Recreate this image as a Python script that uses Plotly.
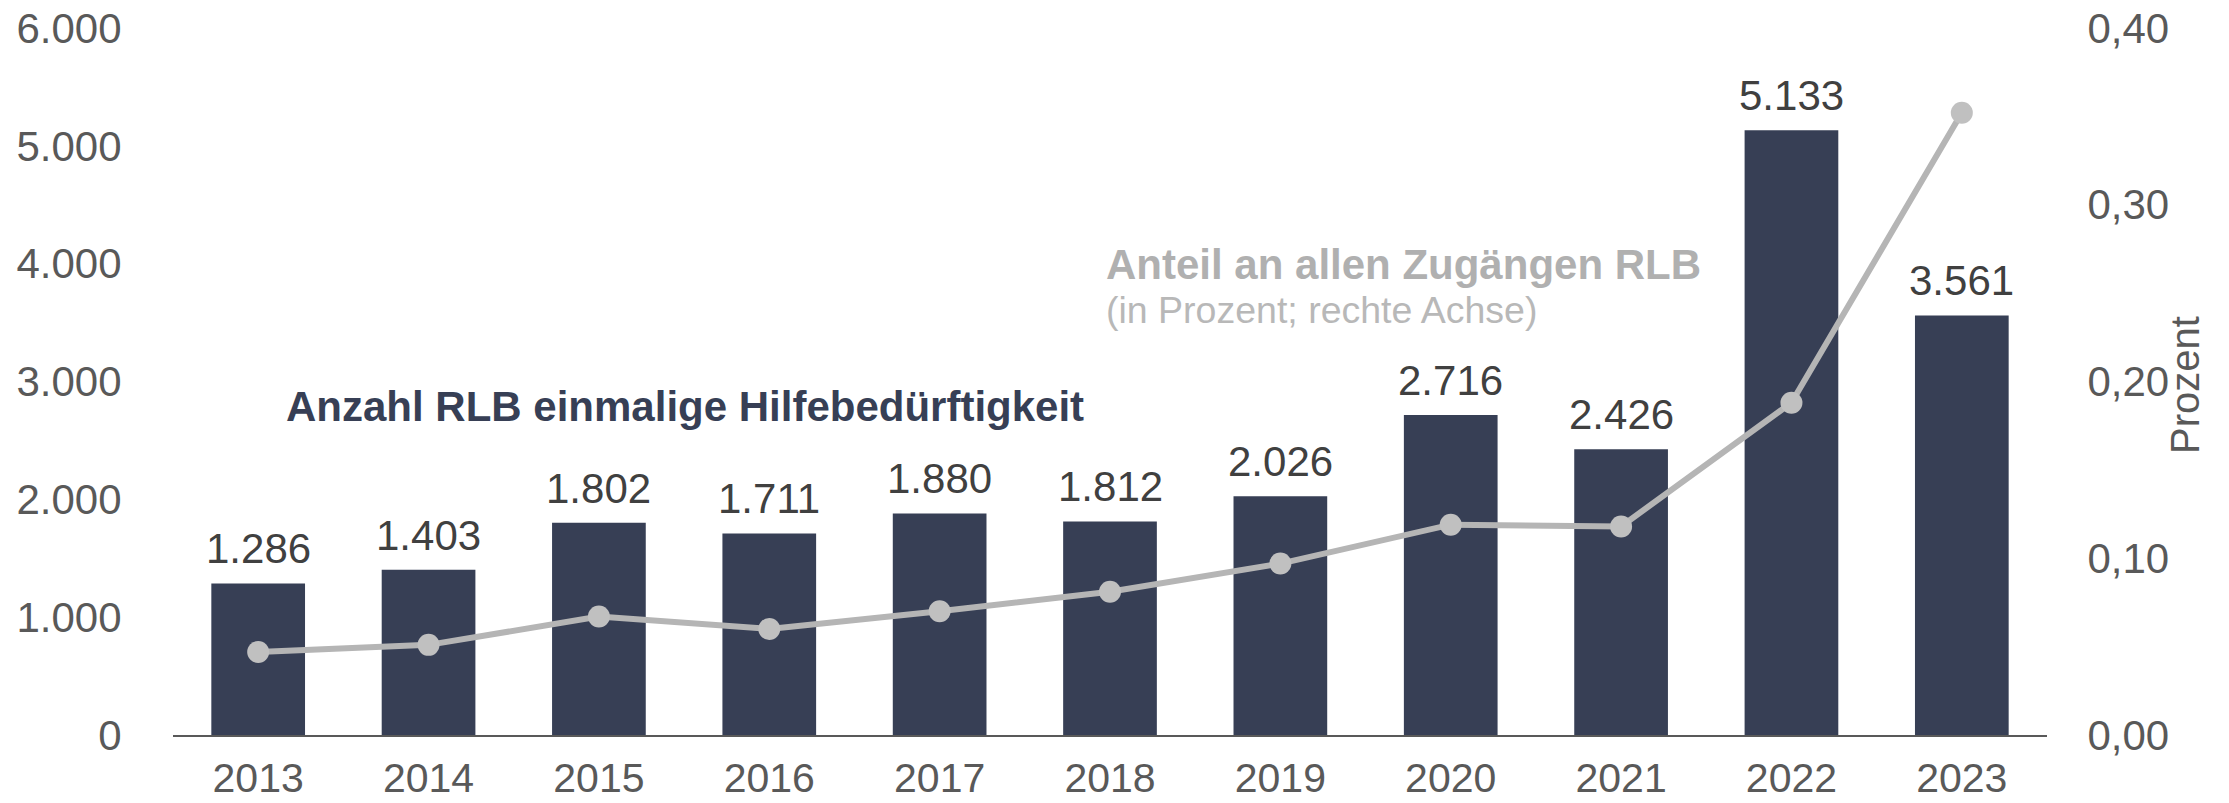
import plotly.graph_objects as go

years = ["2013", "2014", "2015", "2016", "2017", "2018", "2019", "2020", "2021", "2022", "2023"]
anzahl = [1286, 1403, 1802, 1711, 1880, 1812, 2026, 2716, 2426, 5133, 3561]
anteil = [0.047, 0.051, 0.067, 0.060, 0.070, 0.081, 0.097, 0.119, 0.118, 0.188, 0.352]
left_ticks = [0, 1000, 2000, 3000, 4000, 5000, 6000]
right_ticks = [0.0, 0.1, 0.2, 0.3, 0.4]

NAVY = "#373f55"
GREY_LINE = "#b5b5b5"
TICK = "#595959"
FONT = "Liberation Sans, Arial, sans-serif"

fig = go.Figure()
fig.add_trace(go.Bar(x=years, y=anzahl, marker=dict(color=NAVY, line=dict(width=0)),
                     yaxis="y", hoverinfo="skip", showlegend=False))
fig.add_trace(go.Scatter(x=years, y=anteil, yaxis="y2", mode="lines+markers",
                         line=dict(color=GREY_LINE, width=6),
                         marker=dict(color="#c0c0c0", size=22),
                         showlegend=False, hoverinfo="skip"))

# value labels above bars (category index positions)
for i, v in enumerate(anzahl):
    fig.add_annotation(x=i, y=v, xref="x", yref="y", text=f"{v:,}".replace(",", "."),
                       showarrow=False, yanchor="bottom", yshift=9,
                       font=dict(family=FONT, size=42, color="#404040"))

fig.add_annotation(xref="paper", yref="paper", x=0.0592, y=0.464, xanchor="left", yanchor="middle",
                   text="<b>Anzahl RLB einmalige Hilfebedürftigkeit</b>", showarrow=False,
                   font=dict(family=FONT, size=42, color=NAVY))
fig.add_annotation(xref="paper", yref="paper", x=0.497, y=0.666, xanchor="left", yanchor="middle",
                   text="<b>Anteil an allen Zugängen RLB</b>", showarrow=False,
                   font=dict(family=FONT, size=42, color="#b0b0b0"))
fig.add_annotation(xref="paper", yref="paper", x=0.497, y=0.601, xanchor="left", yanchor="middle",
                   text="(in Prozent; rechte Achse)", showarrow=False,
                   font=dict(family=FONT, size=37.5, color="#b8b8b8"))
fig.add_annotation(xref="paper", yref="paper", x=1.0736, y=0.495, xanchor="center", yanchor="middle",
                   text="Prozent", textangle=-90, showarrow=False,
                   font=dict(family=FONT, size=40, color=TICK))

fig.update_layout(
    width=2229, height=803,
    margin=dict(l=173, r=182, t=28, b=68, autoexpand=False),
    paper_bgcolor="white", plot_bgcolor="white",
    separators=",.",
    bargap=0.45,
    font=dict(family=FONT, size=42, color=TICK),
    xaxis=dict(type="category", showgrid=False, showline=True, linecolor=TICK, linewidth=2,
               ticks="outside", ticklen=6, tickcolor="rgba(0,0,0,0)", automargin=False,
               tickfont=dict(size=41, color=TICK), range=[-0.5, 10.5]),
    yaxis=dict(range=[0, 6000], tickvals=left_ticks, tickformat=",d", showgrid=False,
               zeroline=False, showline=False, ticks="outside", ticklen=42, automargin=False,
               tickcolor="rgba(0,0,0,0)", tickfont=dict(size=42, color=TICK)),
    yaxis2=dict(range=[0, 0.4], tickvals=right_ticks, tickformat=".2f", overlaying="y",
                side="right", showgrid=False, zeroline=False, showline=False, automargin=False,
                ticks="outside", ticklen=31, tickcolor="rgba(0,0,0,0)",
                tickfont=dict(size=42, color=TICK)),
)

fig.write_html("out.html", config={"displayModeBar": False},
               post_script="document.body.style.margin='0';")
